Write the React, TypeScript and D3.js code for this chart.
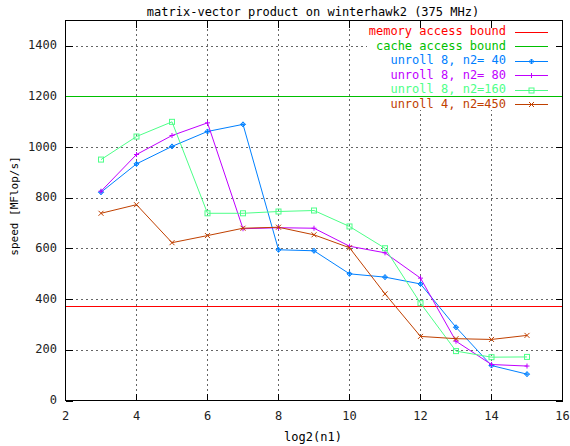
import React from 'react';
import * as d3 from 'd3';

// log2(n1) values where each series was measured
const log2n1 = [3, 4, 5, 6, 7, 8, 9, 10, 11, 12, 13, 14, 15];

// speed in MFlop/s
const unroll8n40 = [822, 934, 1003, 1062, 1090, 595, 591, 500, 487, 460, 289, 138, 104];
const unroll8n80 = [826, 971, 1046, 1096, 678, 682, 680, 609, 583, 483, 234, 142, 136];
const unroll8n160 = [951, 1042, 1100, 739, 739, 746, 750, 687, 601, 384, 195, 171, 172];
const unroll4n450 = [739, 773, 623, 651, 680, 684, 654, 603, 421, 253, 244, 241, 257];

const memoryBound = 375;
const cacheBound = 1200;

const xTicks = [2, 4, 6, 8, 10, 12, 14, 16];
const yTicks = [0, 200, 400, 600, 800, 1000, 1200, 1400];

const series = [
  { label: 'unroll 8, n2= 40', values: unroll8n40, color: '#0080ff', marker: 'diamond' },
  { label: 'unroll 8, n2= 80', values: unroll8n80, color: '#c000ff', marker: 'plus' },
  { label: 'unroll 8, n2=160', values: unroll8n160, color: '#4dff88', marker: 'square' },
  { label: 'unroll 4, n2=450', values: unroll4n450, color: '#c04000', marker: 'cross' },
];

const width = 570;
const height = 446;
const font = '"DejaVu Sans Mono", monospace';

const Marker = ({ type, x, y, color }: { type: string; x: number; y: number; color: string }) => {
  const s = 2.5;
  if (type === 'diamond') {
    return (
      <g stroke={color} fill="none">
        <path d={`M${x - s},${y}L${x},${y - s}L${x + s},${y}L${x},${y + s}Z`} />
        <path d={`M${x - s},${y}H${x + s}M${x},${y - s}V${y + s}`} />
      </g>
    );
  }
  if (type === 'plus') {
    return <path stroke={color} fill="none" d={`M${x - s},${y}H${x + s}M${x},${y - s}V${y + s}`} />;
  }
  if (type === 'square') {
    return <rect stroke={color} fill="none" x={x - s} y={y - s} width={2 * s} height={2 * s} />;
  }
  return <path stroke={color} fill="none" d={`M${x - s},${y - s}L${x + s},${y + s}M${x - s},${y + s}L${x + s},${y - s}`} />;
};

export default function App() {
  const x = d3.scaleLinear().domain([2, 16]).range([65.5, 562.5]);
  const y = d3.scaleLinear().domain([0, 1500]).range([400.5, 20.5]);
  const [x0, x1] = x.range();
  const [y0, y1] = y.range();

  const line = d3
    .line<number>()
    .x((_, i) => x(log2n1[i]))
    .y((d) => y(d));

  const legendRows = [
    { label: 'memory access bound', color: '#ff0000', marker: '' },
    { label: 'cache access bound', color: '#00c000', marker: '' },
    ...series,
  ];

  return (
    <svg
      width={width}
      height={height}
      style={{ position: 'absolute', left: 0, top: 0, background: '#fff' }}
      fontFamily={font}
    >
      <rect x={0} y={0} width={width} height={height} fill="#fff" />

      {/* grid */}
      <g stroke="#666" strokeDasharray="2,3" shapeRendering="crispEdges">
        {xTicks.slice(1, -1).map((t) => (
          <line key={'gx' + t} x1={x(t)} x2={x(t)} y1={y0} y2={y1} />
        ))}
        {yTicks.slice(1).map((t) => (
          <line key={'gy' + t} x1={x0} x2={x1} y1={Math.round(y(t)) + 0.5} y2={Math.round(y(t)) + 0.5} />
        ))}
      </g>

      {/* key background */}
      <rect x={367} y={23} width={187} height={87} fill="#fff" />

      {/* ticks, mirrored inward */}
      <g stroke="#000" shapeRendering="crispEdges">
        {xTicks.map((t) => (
          <g key={'tx' + t}>
            <line x1={x(t)} x2={x(t)} y1={y0} y2={y0 - 7} />
            <line x1={x(t)} x2={x(t)} y1={y1} y2={y1 + 7} />
          </g>
        ))}
        {yTicks.map((t) => {
          const yy = Math.round(y(t)) + 0.5;
          return (
            <g key={'ty' + t}>
              <line x1={x0} x2={x0 + 7} y1={yy} y2={yy} />
              <line x1={x1} x2={x1 - 7} y1={yy} y2={yy} />
            </g>
          );
        })}
      </g>

      {/* tick labels */}
      <g fontSize={12} fill="#222">
        {xTicks.map((t) => (
          <text key={'lx' + t} x={x(t)} y={416} textAnchor="middle" dominantBaseline="middle">
            {t}
          </text>
        ))}
        {yTicks.map((t) => (
          <text key={'ly' + t} x={57} y={y(t)} textAnchor="end" dominantBaseline="middle">
            {t}
          </text>
        ))}
      </g>

      {/* bounds */}
      <line x1={x0} x2={x1} y1={Math.round(y(memoryBound)) + 0.5} y2={Math.round(y(memoryBound)) + 0.5} stroke="#ff0000" />
      <line x1={x0} x2={x1} y1={Math.round(y(cacheBound)) + 0.5} y2={Math.round(y(cacheBound)) + 0.5} stroke="#00c000" />

      {/* series */}
      {series.map((s) => (
        <g key={s.label}>
          <path d={line(s.values) || ''} fill="none" stroke={s.color} strokeWidth={1} />
          {s.values.map((v, i) => (
            <Marker key={i} type={s.marker} x={x(log2n1[i])} y={y(v)} color={s.color} />
          ))}
        </g>
      ))}

      {/* key */}
      <g fontSize={12}>
        {legendRows.map((r, i) => {
          const ky = 31.5 + i * 14.5;
          return (
            <g key={r.label}>
              <text x={506} y={ky} textAnchor="end" dominantBaseline="middle" fill={r.color}>
                {r.label}
              </text>
              <line x1={515} x2={548} y1={Math.round(ky) + 0.5} y2={Math.round(ky) + 0.5} stroke={r.color} />
              {r.marker && <Marker type={r.marker} x={531.5} y={Math.round(ky) + 0.5} color={r.color} />}
            </g>
          );
        })}
      </g>

      {/* frame */}
      <rect x={x0} y={y1} width={x1 - x0} height={y0 - y1} fill="none" stroke="#000" shapeRendering="crispEdges" />

      {/* titles */}
      <text x={313} y={12} textAnchor="middle" dominantBaseline="middle" fontSize={12} fill="#000">
        matrix-vector product on winterhawk2 (375 MHz)
      </text>
      <text x={313} y={437} textAnchor="middle" dominantBaseline="middle" fontSize={12} fill="#000">
        log2(n1)
      </text>
      <text
        transform={`translate(15,206) rotate(-90)`}
        textAnchor="middle"
        dominantBaseline="middle"
        fontSize={11}
        fill="#000"
      >
        speed [MFlop/s]
      </text>
    </svg>
  );
}
